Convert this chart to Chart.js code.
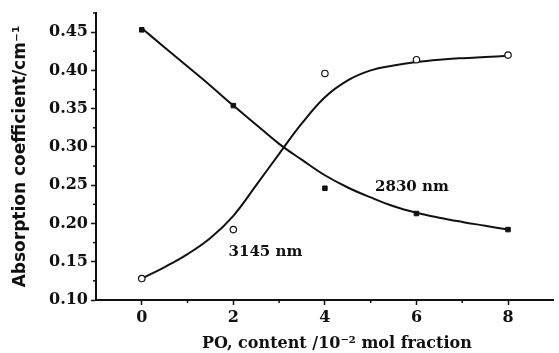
<!DOCTYPE html>
<html>
<head>
<meta charset="utf-8">
<script src="https://cdn.jsdelivr.net/npm/chart.js@4"></script>
<style>
	html, body { margin: 0; padding: 0; background: #fff; }
	#wrap { width: 559px; height: 353px; }
</style>
</head>
<body>
<div id="wrap"><canvas id="absorption-chart" width="559" height="353"></canvas></div>
<script>
// measured points
const xPoints = [0, 2, 4, 6, 8];
const abs2830 = [0.453, 0.354, 0.246, 0.213, 0.192];
const abs3145 = [0.128, 0.192, 0.396, 0.414, 0.420];

// fitted curves
const xCurve = [0, 0.5, 1, 1.5, 2, 2.5, 3, 3.5, 4, 4.5, 5, 5.5, 6, 6.5, 7, 7.5, 8];
const curve2830 = [0.455, 0.430, 0.405, 0.380, 0.354, 0.329, 0.304, 0.283, 0.263, 0.247, 0.234, 0.2225, 0.214, 0.2075, 0.202, 0.197, 0.192];
const curve3145 = [0.128, 0.143, 0.160, 0.181, 0.210, 0.250, 0.291, 0.331, 0.365, 0.387, 0.400, 0.4065, 0.411, 0.414, 0.416, 0.4175, 0.419];

const xTicks = [0, 2, 4, 6, 8];
const xMinor = [1, 3, 5, 7];
const yTicks = [0.10, 0.15, 0.20, 0.25, 0.30, 0.35, 0.40, 0.45];
const yMinor = [0.125, 0.175, 0.225, 0.275, 0.325, 0.375, 0.425, 0.475];

const curveLabels = [
	{ text: '2830 nm', x: 5.9, y: 0.247 },
	{ text: '3145 nm', x: 2.7, y: 0.163 },
];

const ink = '#111';

document.addEventListener('DOMContentLoaded', (event) => {
	absorptionChart();
});

function zip(xs, ys) {
	return xs.map((x, i) => ({ x: x, y: ys[i] }));
}

function absorptionChart() {
	const ctx = document.getElementById('absorption-chart');

	if (!ctx) {
		return;
	}

	Chart.defaults.font.family = '"DejaVu Serif", "Liberation Serif", serif';
	Chart.defaults.font.weight = 'bold';
	Chart.defaults.color = ink;

	const extras = {
		id: 'extras',
		afterDraw(chart) {
			const c = chart.ctx;
			const xs = chart.scales.x;
			const ys = chart.scales.y;
			const area = chart.chartArea;
			c.save();
			c.strokeStyle = ink;
			c.lineWidth = 1.5;
			xMinor.forEach((v) => {
				const px = xs.getPixelForValue(v);
				c.beginPath();
				c.moveTo(px, area.bottom);
				c.lineTo(px, area.bottom + 3);
				c.stroke();
			});
			yMinor.forEach((v) => {
				const py = ys.getPixelForValue(v);
				c.beginPath();
				c.moveTo(area.left, py);
				c.lineTo(area.left - 3, py);
				c.stroke();
			});
			c.fillStyle = ink;
			c.font = 'bold 15px "DejaVu Serif", serif';
			c.textAlign = 'center';
			c.textBaseline = 'middle';
			curveLabels.forEach((l) => {
				c.fillText(l.text, xs.getPixelForValue(l.x), ys.getPixelForValue(l.y));
			});
			c.restore();
		},
	};

	new Chart(ctx, {
		type: 'scatter',
		data: {
			datasets: [
				{
					data: zip(xPoints, abs2830),
					pointStyle: 'rect',
					radius: 3.2,
					backgroundColor: ink,
					borderColor: ink,
					borderWidth: 1,
				},
				{
					data: zip(xPoints, abs3145),
					pointStyle: 'circle',
					radius: 3.2,
					backgroundColor: '#fff',
					borderColor: ink,
					borderWidth: 1.2,
				},
				{
					data: zip(xCurve, curve2830),
					showLine: true,
					radius: 0,
					borderColor: ink,
					borderWidth: 2,
					tension: 0.4,
				},
				{
					data: zip(xCurve, curve3145),
					showLine: true,
					radius: 0,
					borderColor: ink,
					borderWidth: 2,
					tension: 0.4,
				},
			],
		},
		options: {
			responsive: false,
			animation: false,
			layout: {
				padding: { top: 13, right: 0, left: 0, bottom: 0 },
			},
			plugins: {
				legend: {
					display: false,
				},
				tooltip: {
					enabled: false,
				},
			},
			scales: {
				x: {
					type: 'linear',
					min: -1,
					max: 9,
					afterBuildTicks: (scale) => {
						scale.ticks = xTicks.map((v) => ({ value: v }));
					},
					afterFit: (scale) => {
						scale.height = 53;
					},
					grid: {
						drawOnChartArea: false,
						drawTicks: true,
						tickLength: 5,
						tickColor: ink,
						tickWidth: 1.5,
					},
					border: {
						color: ink,
						width: 2,
					},
					ticks: {
						padding: 3,
						font: { size: 16 },
						maxRotation: 0,
					},
					title: {
						display: true,
						text: '\u2002\u2002\u2002PO, content /10⁻² mol fraction',
						font: { size: 16 },
						padding: { top: 0, bottom: 0 },
					},
				},
				y: {
					min: 0.10,
					max: 0.475,
					afterBuildTicks: (scale) => {
						scale.ticks = yTicks.map((v) => ({ value: v }));
					},
					afterFit: (scale) => {
						scale.width = 96;
					},
					grid: {
						drawOnChartArea: false,
						drawTicks: true,
						tickLength: 5,
						tickColor: ink,
						tickWidth: 1.5,
					},
					border: {
						color: ink,
						width: 2,
					},
					ticks: {
						padding: 3,
						font: { size: 16 },
						callback: (v) => v.toFixed(2),
					},
					title: {
						display: true,
						text: 'Absorption coefficient/cm⁻¹',
						font: { size: 17, family: '"DejaVu Sans", sans-serif', weight: 'bold' },
						padding: { top: 10, bottom: 0 },
					},
				},
			},
		},
		plugins: [extras],
	});
}
</script>
</body>
</html>
